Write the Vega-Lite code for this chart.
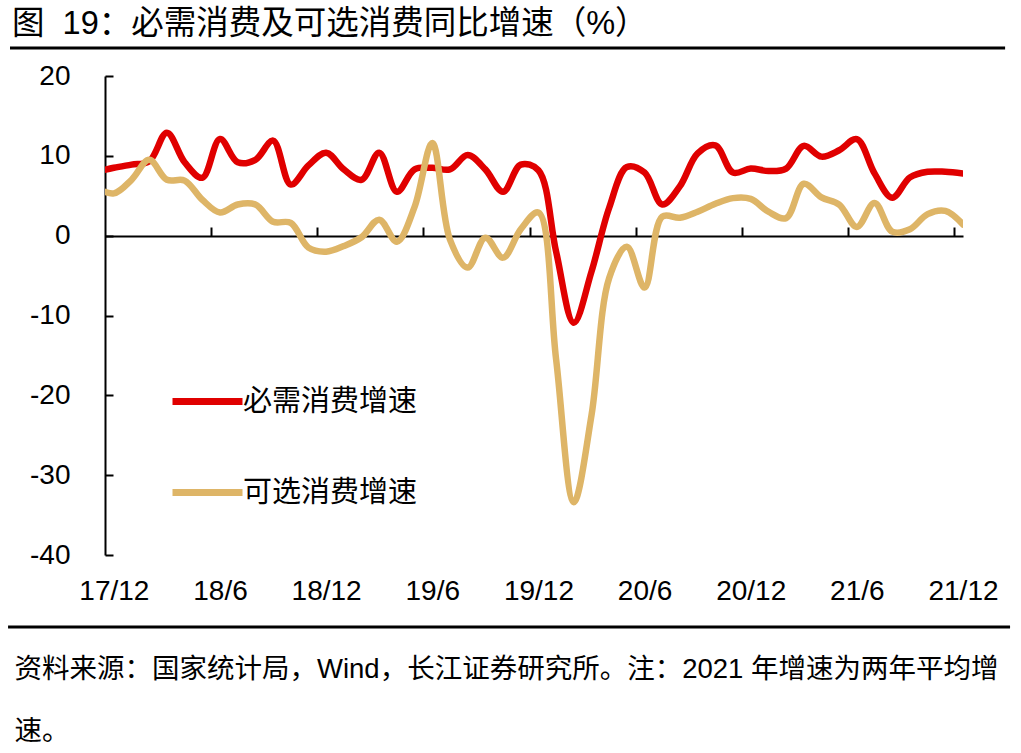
{
  "$schema": "https://vega.github.io/schema/vega-lite/v6.json",
  "autosize": {"type": "none"},
  "width": 858,
  "height": 479,
  "padding": {"left": 105, "top": 76, "right": 58, "bottom": 198},
  "background": "white",
  "title": {
    "text": "图\u00a0\u00a019：必需消费及可选消费同比增速（%）",
    "anchor": "start",
    "frame": "group",
    "dx": -93,
    "dy": 30,
    "offset": 10,
    "baseline": "alphabetic",
    "font": "Liberation Sans, Noto Sans CJK SC",
    "fontSize": 32.5,
    "fontWeight": "normal",
    "color": "#000000"
  },
  "datasets": {
    "retail": [
      {"k": -1, "month": "2017-11", "essential": 8.0, "discretionary": 6.0},
      {"k": 0, "month": "2017-12", "essential": 8.5, "discretionary": 5.3},
      {"k": 1, "month": "2018-01", "essential": 8.9, "discretionary": 7.0},
      {"k": 2, "month": "2018-02", "essential": 9.3, "discretionary": 9.5},
      {"k": 3, "month": "2018-03", "essential": 12.9, "discretionary": 7.0},
      {"k": 4, "month": "2018-04", "essential": 9.2, "discretionary": 6.9},
      {"k": 5, "month": "2018-05", "essential": 7.25, "discretionary": 4.5},
      {"k": 6, "month": "2018-06", "essential": 12.1, "discretionary": 2.9},
      {"k": 7, "month": "2018-07", "essential": 9.2, "discretionary": 3.9},
      {"k": 8, "month": "2018-08", "essential": 9.5, "discretionary": 3.9},
      {"k": 9, "month": "2018-09", "essential": 11.9, "discretionary": 1.75},
      {"k": 10, "month": "2018-10", "essential": 6.4, "discretionary": 1.6},
      {"k": 11, "month": "2018-11", "essential": 8.8, "discretionary": -1.5},
      {"k": 12, "month": "2018-12", "essential": 10.4, "discretionary": -2.0},
      {"k": 13, "month": "2019-01", "essential": 8.3, "discretionary": -1.3},
      {"k": 14, "month": "2019-02", "essential": 7.0, "discretionary": -0.2},
      {"k": 15, "month": "2019-03", "essential": 10.4, "discretionary": 2.0},
      {"k": 16, "month": "2019-04", "essential": 5.5, "discretionary": -0.75},
      {"k": 17, "month": "2019-05", "essential": 8.3, "discretionary": 3.6},
      {"k": 18, "month": "2019-06", "essential": 8.5, "discretionary": 11.6},
      {"k": 19, "month": "2019-07", "essential": 8.3, "discretionary": -0.5},
      {"k": 20, "month": "2019-08", "essential": 10.1, "discretionary": -4.0},
      {"k": 21, "month": "2019-09", "essential": 8.3, "discretionary": -0.25},
      {"k": 22, "month": "2019-10", "essential": 5.5, "discretionary": -2.75},
      {"k": 23, "month": "2019-11", "essential": 8.9, "discretionary": 0.8},
      {"k": 24, "month": "2019-12", "essential": 8.2, "discretionary": 2.9},
      {"k": 25, "month": "2020-01", "essential": -2.0, "discretionary": -15.5},
      {"k": 26, "month": "2020-02", "essential": -10.9, "discretionary": -33.4},
      {"k": 27, "month": "2020-03", "essential": -4.5, "discretionary": -22.5},
      {"k": 28, "month": "2020-04", "essential": 3.5, "discretionary": -5.3},
      {"k": 29, "month": "2020-05", "essential": 8.6, "discretionary": -1.4},
      {"k": 30, "month": "2020-06", "essential": 7.9, "discretionary": -6.5},
      {"k": 31, "month": "2020-07", "essential": 3.9, "discretionary": 2.4},
      {"k": 32, "month": "2020-08", "essential": 6.2, "discretionary": 2.25},
      {"k": 33, "month": "2020-09", "essential": 10.3, "discretionary": 3.0},
      {"k": 34, "month": "2020-10", "essential": 11.3, "discretionary": 4.0},
      {"k": 35, "month": "2020-11", "essential": 7.9, "discretionary": 4.7},
      {"k": 36, "month": "2020-12", "essential": 8.4, "discretionary": 4.6},
      {"k": 37, "month": "2021-01", "essential": 8.1, "discretionary": 3.0},
      {"k": 38, "month": "2021-02", "essential": 8.4, "discretionary": 2.2},
      {"k": 39, "month": "2021-03", "essential": 11.25, "discretionary": 6.5},
      {"k": 40, "month": "2021-04", "essential": 9.9, "discretionary": 4.8},
      {"k": 41, "month": "2021-05", "essential": 10.7, "discretionary": 3.9},
      {"k": 42, "month": "2021-06", "essential": 12.1, "discretionary": 1.1},
      {"k": 43, "month": "2021-07", "essential": 7.8, "discretionary": 4.1},
      {"k": 44, "month": "2021-08", "essential": 4.75, "discretionary": 0.5},
      {"k": 45, "month": "2021-09", "essential": 7.3, "discretionary": 0.8},
      {"k": 46, "month": "2021-10", "essential": 8.0, "discretionary": 2.7},
      {"k": 47, "month": "2021-11", "essential": 8.0, "discretionary": 3.1},
      {"k": 48, "month": "2021-12", "essential": 7.8, "discretionary": 1.4}
    ]
  },
  "data": {"name": "retail"},
  "layer": [
    {
      "data": {"values": [{"rule": "header"}]},
      "mark": {"type": "rule", "strokeWidth": 3, "color": "#000000"},
      "encoding": {
        "x": {"datum": -5.87, "type": "quantitative", "scale": {"domain": [-0.5, 48], "nice": false, "zero": false}, "axis": null},
        "x2": {"datum": 50.38},
        "y": {"datum": 23.51, "type": "quantitative", "scale": {"domain": [-40, 20], "nice": false, "zero": false}}
      }
    },
    {
      "data": {"values": [{"rule": "footer"}]},
      "mark": {"type": "rule", "strokeWidth": 3, "color": "#000000"},
      "encoding": {
        "x": {"datum": -5.98, "type": "quantitative", "scale": {"domain": [-0.5, 48], "nice": false, "zero": false}, "axis": null},
        "x2": {"datum": 50.66},
        "y": {"datum": -49.02, "type": "quantitative", "scale": {"domain": [-40, 20], "nice": false, "zero": false}}
      }
    },
    {
      "mark": {"type": "line", "interpolate": "catmull-rom", "strokeWidth": 6.5, "strokeCap": "round", "strokeJoin": "round", "clip": true},
      "encoding": {
        "x": {
          "field": "k", "type": "quantitative",
          "scale": {"domain": [-0.5, 48], "nice": false, "zero": false},
          "axis": {
            "orient": "bottom",
            "values": [0, 6, 12, 18, 24, 30, 36, 42, 48],
            "labelExpr": "['17/12','18/6','18/12','19/6','19/12','20/6','20/12','21/6','21/12'][round(datum.value/6)]",
            "domain": false, "ticks": false, "grid": false,
            "labelFont": "Liberation Sans", "labelFontSize": 28, "labelColor": "#000000",
            "labelPadding": 22, "labelFlush": false, "labelOverlap": false,
            "title": ["资料来源：国家统计局，Wind，长江证券研究所。注：2021 年增速为两年平均增", "速。"],
            "titleX": -91, "titleY": 122, "titleAlign": "left", "titleAnchor": "start",
            "titleBaseline": "alphabetic", "titleFont": "Liberation Sans, Noto Sans CJK SC",
            "titleFontSize": 27.5, "titleFontWeight": "normal", "titleColor": "#000000", "titleLineHeight": 62
          }
        },
        "y": {
          "field": "essential", "type": "quantitative",
          "scale": {"domain": [-40, 20], "nice": false, "zero": false},
          "axis": {
            "values": [-40, -30, -20, -10, 0, 10, 20],
            "labelExpr": "datum.value + ''",
            "title": null, "grid": false,
            "domainColor": "#000000", "domainWidth": 2,
            "tickColor": "#000000", "tickWidth": 2, "tickSize": -8,
            "labelFont": "Liberation Sans", "labelFontSize": 28, "labelColor": "#000000",
            "labelPadding": 43, "labelFlush": false, "labelOverlap": false
          }
        },
        "color": {
          "datum": "必需消费增速", "type": "nominal",
          "scale": {"domain": ["必需消费增速", "可选消费增速"], "range": ["#E00000", "#DEB567"]},
          "legend": {
            "orient": "none", "legendX": 64, "legendY": 287, "title": null,
            "symbolType": "stroke", "symbolSize": 4900, "symbolStrokeWidth": 7,
            "labelFont": "Noto Sans CJK SC", "labelFontSize": 29, "labelColor": "#000000",
            "labelOffset": -3, "rowPadding": 37, "labelLimit": 400
          }
        }
      }
    },
    {
      "mark": {"type": "line", "interpolate": "catmull-rom", "strokeWidth": 6.5, "strokeCap": "round", "strokeJoin": "round", "clip": true},
      "encoding": {
        "x": {
          "field": "k", "type": "quantitative",
          "scale": {"domain": [-0.5, 48], "nice": false, "zero": false},
          "axis": {
            "orient": "top", "offset": -160,
            "values": [5.5, 11.5, 17.5, 23.5, 29.5, 35.5, 41.5, 47.5],
            "labels": false, "grid": false, "title": null,
            "domainColor": "#000000", "domainWidth": 2,
            "tickColor": "#000000", "tickWidth": 2, "tickSize": 9
          }
        },
        "y": {"field": "discretionary", "type": "quantitative", "scale": {"domain": [-40, 20], "nice": false, "zero": false}},
        "color": {"datum": "可选消费增速", "type": "nominal"}
      }
    }
  ],
  "resolve": {"axis": {"x": "independent"}},
  "config": {"view": {"stroke": null}}
}
